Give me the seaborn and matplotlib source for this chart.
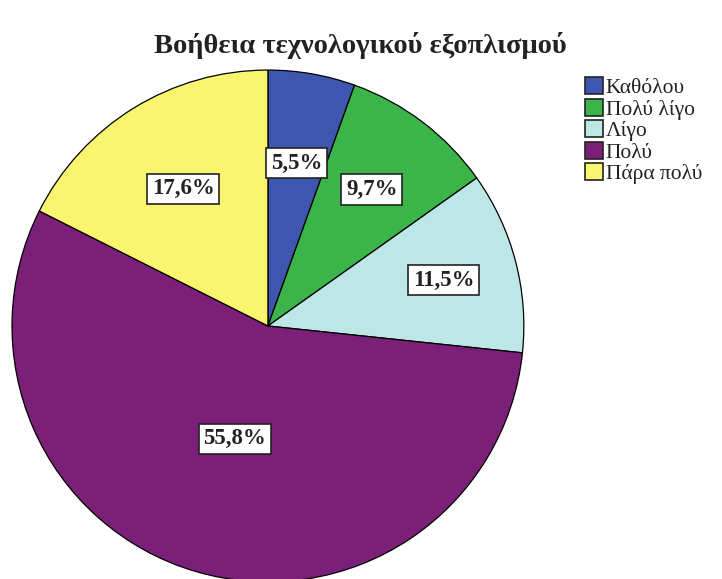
import numpy as np
import matplotlib
matplotlib.use("Agg")
import matplotlib.pyplot as plt
import seaborn as sns
from matplotlib.patches import Patch

categories = ["Καθόλου", "Πολύ λίγο", "Λίγο", "Πολύ", "Πάρα πολύ"]
values = [5.5, 9.7, 11.5, 55.8, 17.6]
labels = ["5,5%", "9,7%", "11,5%", "55,8%", "17,6%"]
title = "Βοήθεια τεχνολογικού εξοπλισμού"

colors = ["#3E56AE", "#3BB54A", "#BDE6E6", "#7B1F78", "#FAF56E"]
label_radii = [0.645, 0.67, 0.71, 0.46, 0.63]

sns.set_theme(style="white")
serif = ["Liberation Serif", "DejaVu Serif"]
plt.rcParams["font.family"] = serif

fig = plt.figure(figsize=(7.22, 5.79), dpi=100)
ax = fig.add_axes([0.0166, -0.005, 0.709, 0.884])
wedges, _ = ax.pie(values, colors=colors, startangle=90, counterclock=False,
                   wedgeprops=dict(edgecolor="black", linewidth=0.9))
ax.set_xlim(-1, 1)
ax.set_ylim(-1, 1)
ax.set_aspect("equal")

for w, lab, r in zip(wedges, labels, label_radii):
    ang = np.deg2rad((w.theta1 + w.theta2) / 2)
    ax.text(r * np.cos(ang), r * np.sin(ang), lab, ha="center", va="center",
            fontsize=16.5, fontweight="bold", color="#222222", family=serif,
            bbox=dict(boxstyle="square,pad=0.2", facecolor="white",
                      edgecolor="#222222", linewidth=1.2))

fig.text(0.499, 0.921, title, ha="center", va="center", fontsize=20.5,
         fontweight="bold", color="#222222", family=serif)

handles = [Patch(facecolor=c, edgecolor="#222222", linewidth=1.2) for c in colors]
fig.legend(handles, categories, loc="upper left", bbox_to_anchor=(0.7925, 0.889),
           frameon=False, prop=dict(family=serif, size=15.5),
           handlelength=0.85, handleheight=0.85,
           handletextpad=0.1, labelspacing=0.02, borderpad=0.1,
           labelcolor="#222222")

fig.savefig("out.png", dpi=100)
